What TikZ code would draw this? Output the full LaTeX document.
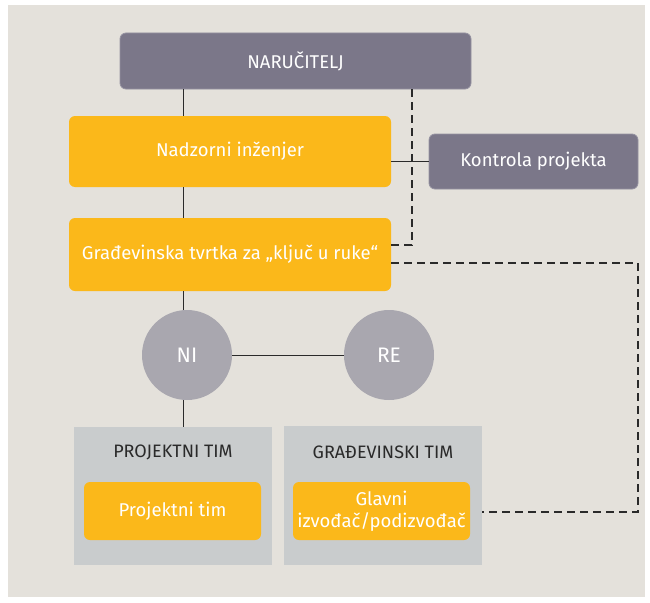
\documentclass[tikz,border=0pt]{standalone}
\usepackage{fontspec}
\setmainfont{Fira Sans}
\definecolor{bgc}{HTML}{E4E1DB}
\definecolor{purp}{HTML}{7B7789}
\definecolor{yel}{HTML}{FBB81A}
\definecolor{grayb}{HTML}{C9CCCD}
\definecolor{circ}{HTML}{A9A7AF}
\definecolor{txt}{HTML}{2A2A2A}
\begin{document}
\begin{tikzpicture}[x=1pt,y=-1pt,
  box/.style={rounded corners=6pt, inner sep=0pt, font=\fontsize{18.5}{22}\selectfont, text=white, align=center},
  purpbox/.style={box, fill=purp, draw=purp!80!white, line width=0.8pt},
  yelbox/.style={box, fill=yel},
  teambox/.style={fill=grayb, inner sep=0pt},
  teamlabel/.style={font=\fontsize{18}{22}\selectfont, text=txt},
  circnode/.style={circle, fill=circ, minimum size=90pt, inner sep=0pt, font=\fontsize{21}{24}\selectfont, text=white},
  conn/.style={line width=0.9pt, draw=txt},
  dconn/.style={line width=2.2pt, draw=txt, dash pattern=on 8pt off 5pt}]
\useasboundingbox (0,0) rectangle (650,602);
\fill[white] (0,0) rectangle (650,602);
\fill[bgc] (8,5) rectangle (645,597);
% nodes
\node[purpbox, minimum width=351pt, minimum height=56pt] (nar) at (295.5,61) {NARUČITELJ};
\node[yelbox, minimum width=322pt, minimum height=71pt] (nad) at (230,151.5) {Nadzorni inženjer};
\node[purpbox, minimum width=209pt, minimum height=55pt] (kon) at (533.5,161.5) {Kontrola projekta};
\node[yelbox, minimum width=322pt, minimum height=73pt] (gra) at (230,254.5) {Građevinska tvrtka za „ključ u ruke“};
\node[circnode] (ni) at (187,355) {NI};
\node[circnode] (re) at (389,355) {RE};
\node[teambox, minimum width=198pt, minimum height=138pt] (pt) at (173,496) {};
\node[teambox, minimum width=198pt, minimum height=139pt] (gt) at (383,495.5) {};
\node[teamlabel] (ptl) at (173,452) {PROJEKTNI TIM};
\node[teamlabel] (gtl) at (383,452) {GRAĐEVINSKI TIM};
\node[yelbox, minimum width=177pt, minimum height=58pt] (ptb) at (172.5,511) {Projektni tim};
\node[yelbox, minimum width=177pt, minimum height=58pt, font=\fontsize{18.5}{22}\selectfont] (glb) at (381.5,511) {Glavni\\izvođač/podizvođač};
% connectors
\coordinate (c1) at (412,89);
\coordinate (c2) at (412,245);
\coordinate (c3) at (638,263);
\coordinate (c4) at (638,512);
\draw[conn] (nar.south -| 183,0) -- (nad.north -| 183,0);
\draw[conn] (nad.south -| 183,0) -- (gra.north -| 183,0);
\draw[conn] (gra.south -| 183,0) -- (183,310);
\draw[conn] (183,400) -- (pt.north -| 183,0);
\draw[conn] (ni.east) -- (re.west);
\draw[conn] (nad.east |- kon.west) -- (kon.west);
\draw[dconn] (c1) -- (c2) -- (gra.east |- c2);
\draw[dconn] (gra.east |- c3) -- (c3) -- (c4) -- (gt.east |- c4);
\end{tikzpicture}
\end{document}
